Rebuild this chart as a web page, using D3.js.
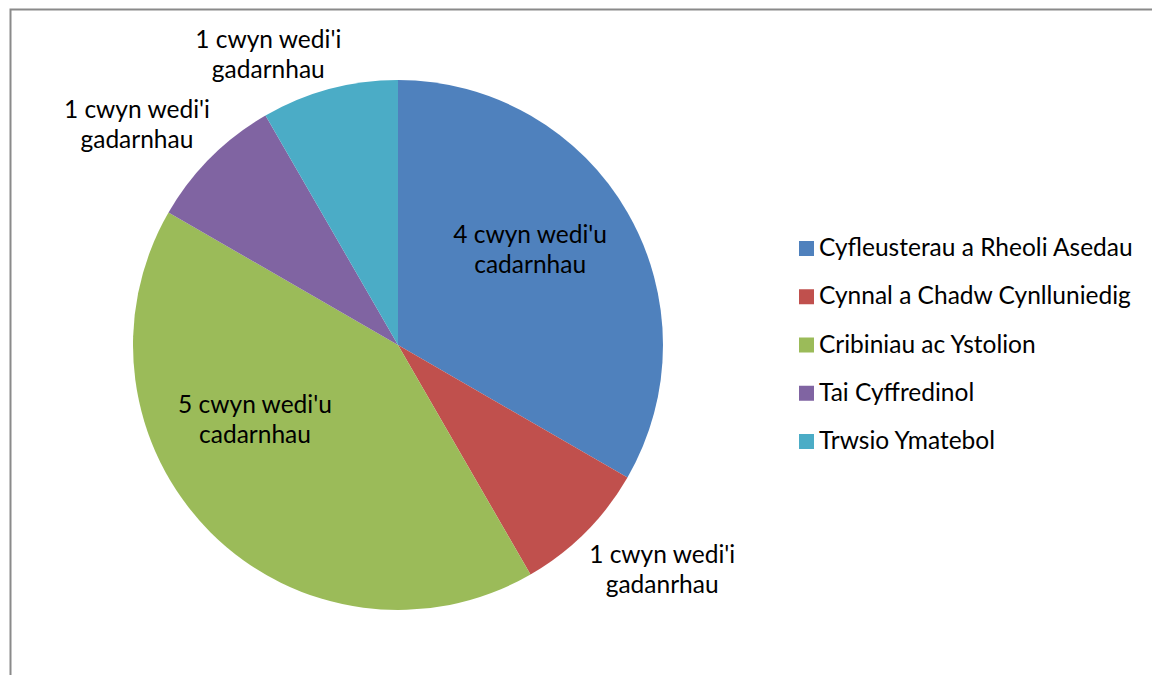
<!DOCTYPE html>
<html>
<head>
<meta charset="utf-8">
<script src="https://cdn.jsdelivr.net/npm/d3@7"></script>
<style>
  html, body { margin: 0; padding: 0; background: #fff; }
  svg { display: block; }
  text { font-family: Lato, "Open Sans", sans-serif; fill: #000; }
</style>
</head>
<body>
<svg id="chart" width="1152" height="675"></svg>
<script>
// Complaint categories and the number of upheld complaints in each
const categories = [
  "Cyfleusterau a Rheoli Asedau",
  "Cynnal a Chadw Cynlluniedig",
  "Cribiniau ac Ystolion",
  "Tai Cyffredinol",
  "Trwsio Ymatebol"
];
const counts = [4, 1, 5, 1, 1];
const sliceLabels = [
  ["4 cwyn wedi'u", "cadarnhau"],
  ["1 cwyn wedi'i", "gadanrhau"],
  ["5 cwyn wedi'u", "cadarnhau"],
  ["1 cwyn wedi'i", "gadarnhau"],
  ["1 cwyn wedi'i", "gadarnhau"]
];
const colours = ["#4f81bd", "#c0504d", "#9bbb59", "#8064a2", "#4bacc6"];

const svg = d3.select("#chart");
const W = 1152, H = 675;

// Chart frame (left and top edges visible)
svg.append("path")
  .attr("d", `M10.5,${H} L10.5,9.5 L${W},9.5`)
  .attr("fill", "none")
  .attr("stroke", "#8a8a8a")
  .attr("stroke-width", 2);

const cx = 398, cy = 345, R = 265;
const colour = d3.scaleOrdinal().domain(categories).range(colours);

const pie = d3.pie().sort(null).value(d => d.value);
const data = pie(categories.map((c, i) => ({ name: c, value: counts[i], label: sliceLabels[i] })));
const arc = d3.arc().innerRadius(0).outerRadius(R);

const g = svg.append("g").attr("transform", `translate(${cx},${cy})`);
g.selectAll("path.slice")
  .data(data)
  .join("path")
  .attr("class", "slice")
  .attr("d", arc)
  .attr("fill", d => colour(d.data.name));

// Label placement relative to each slice: angle shift from the slice middle
// (degrees) and distance from the centre as a fraction of the radius
const labelPlacement = [
  { shift: -5.7, dist: 0.614 },
  { shift: -4.6, dist: 1.309 },
  { shift: 17.4, dist: 0.609 },
  { shift: -4.9, dist: 1.288 },
  { shift: -9.1, dist: 1.199 }
];
const fontSize = 24.5, lineH = 30;

g.selectAll("text.slice-label")
  .data(data)
  .join("text")
  .attr("class", "slice-label")
  .attr("text-anchor", "middle")
  .attr("font-size", fontSize)
  .each(function (d, i) {
    const p = labelPlacement[i];
    const a = (d.startAngle + d.endAngle) / 2 + p.shift * Math.PI / 180;
    const x = Math.sin(a) * R * p.dist;
    const y = -Math.cos(a) * R * p.dist;
    const t = d3.select(this);
    d.data.label.forEach((line, k) => {
      t.append("tspan")
        .attr("x", x)
        .attr("y", y - 7 + k * lineH)
        .text(line);
    });
  });

// Legend
const legend = svg.append("g").attr("transform", "translate(799,241)");
const rowH = 48.25;
const item = legend.selectAll("g")
  .data(categories)
  .join("g")
  .attr("transform", (d, i) => `translate(0,${i * rowH})`);
item.append("rect")
  .attr("x", 0).attr("y", 0)
  .attr("width", 15).attr("height", 15)
  .attr("fill", d => colour(d));
item.append("text")
  .attr("x", 20).attr("y", 15)
  .attr("font-size", fontSize)
  .text(d => d);
</script>
</body>
</html>
